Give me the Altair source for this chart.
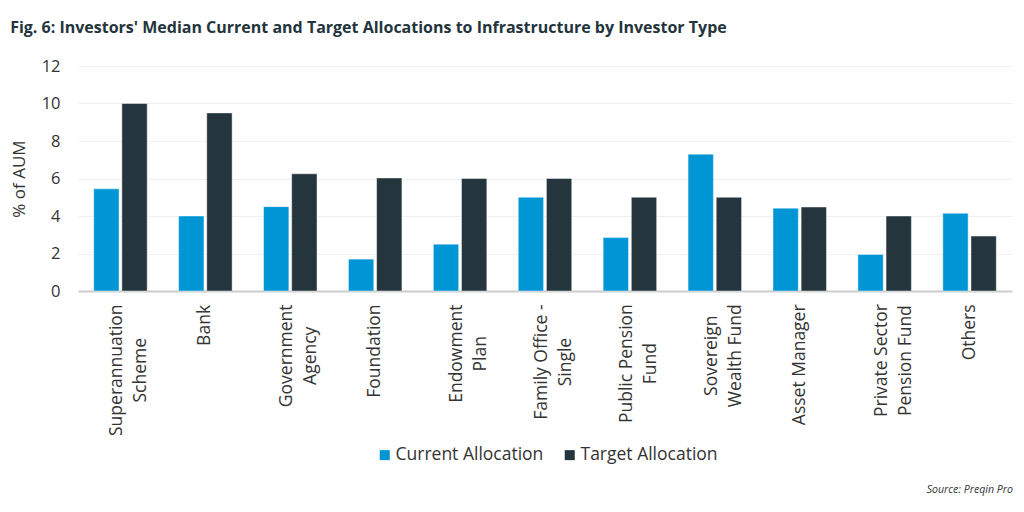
import altair as alt
import pandas as pd

categories = ["Superannuation|Scheme", "Bank", "Government|Agency", "Foundation",
              "Endowment|Plan", "Family Office -|Single", "Public Pension|Fund",
              "Sovereign|Wealth Fund", "Asset Manager", "Private Sector|Pension Fund", "Others"]
current = [5.45, 4.0, 4.5, 1.7, 2.5, 5.0, 2.85, 7.3, 4.42, 1.95, 4.15]
target = [10.0, 9.5, 6.25, 6.03, 6.0, 6.0, 5.0, 5.0, 4.48, 4.0, 2.93]
series = ["Current Allocation", "Target Allocation"]
colors = ["#0096d6", "#24353d"]

rows = []
for c, cv, tv in zip(categories, current, target):
    rows.append({"cat": c, "series": series[0], "value": cv})
    rows.append({"cat": c, "series": series[1], "value": tv})
df = pd.DataFrame(rows)

FONT = "Open Sans"
LABEL_SIZE = 17.5
W, H = 934, 225

# approximate Open Sans advance widths (em): labels are centred line by line,
# so each label's distance from the axis is set from its longest line
_w = {" ": 0.26, "a": 0.556, "b": 0.613, "c": 0.476, "d": 0.613, "e": 0.561, "f": 0.339,
      "g": 0.548, "h": 0.614, "i": 0.253, "l": 0.253, "m": 0.93, "n": 0.614, "o": 0.604,
      "p": 0.613, "r": 0.408, "s": 0.477, "t": 0.353, "u": 0.614, "v": 0.501, "w": 0.778,
      "y": 0.5, "A": 0.633, "B": 0.656, "E": 0.551, "F": 0.5, "G": 0.717, "M": 0.89,
      "O": 0.78, "P": 0.583, "S": 0.538, "W": 0.93, "-": 0.322}


def _width(s):
    return LABEL_SIZE * sum(_w.get(ch, 0.56) for ch in s)


pad_conditions = []
for c in categories:
    mw = max(_width(l) for l in c.split("|"))
    pad_conditions.append({"test": "datum.value === '%s'" % c, "value": round(13 + mw / 2, 1)})

offset_cond = {"condition": {"test": "indexof(datum.value, '|') >= 0", "value": -3}, "value": 0}

bars = alt.Chart(df).mark_bar(stroke="#ffffff", strokeOpacity=0.45, strokeWidth=1).encode(
    x=alt.X("cat:N", sort=categories,
            scale=alt.Scale(paddingInner=0.37, paddingOuter=0.185),
            axis=alt.Axis(title=None, labelAngle=-90, labelAlign="center", labelBaseline="middle",
                          labelExpr="split(datum.label, '|')", labelLineHeight=24,
                          labelOffset=offset_cond,
                          labelPadding={"condition": pad_conditions, "value": 40},
                          labelFontSize=LABEL_SIZE, labelColor="#333333", labelFont=FONT,
                          ticks=False, domainColor="#cccccc", domainWidth=2,
                          labelLimit=300)),
    xOffset=alt.XOffset("series:N", sort=series, scale=alt.Scale(paddingInner=0.1, paddingOuter=0)),
    y=alt.Y("value:Q", scale=alt.Scale(domain=[0, 12]),
            axis=alt.Axis(title="% of AUM", values=[0, 2, 4, 6, 8, 10, 12], labelOverlap=False,
                          grid=True, gridColor="#f0f0f0", domain=False, ticks=False,
                          labelFontSize=16.5, labelColor="#333333", labelFont=FONT, labelPadding=18,
                          titleFontSize=17, titleFont=FONT, titleColor="#333333",
                          titleFontWeight="normal", titlePadding=13)),
    color=alt.Color("series:N", sort=series, scale=alt.Scale(domain=series, range=colors),
                    legend=alt.Legend(title=None, orient="none", legendX=298, legendY=380,
                                      direction="horizontal", symbolType="square",
                                      symbolSize=100, symbolStrokeWidth=0, labelFontSize=17.5,
                                      labelFont=FONT, labelColor="#333333", columnPadding=17,
                                      labelOffset=2)),
)

source = alt.Chart(pd.DataFrame({"t": ["Source: Preqin Pro"]})).mark_text(
    align="right", baseline="alphabetic", fontSize=10.6, fontStyle="italic", font=FONT, color="#333333"
).encode(text="t:N", x=alt.value(W + 1), y=alt.value(427))

chart = alt.layer(bars, source).properties(
    width=W, height=H, padding={"top": 12, "left": 2, "right": 0, "bottom": 0},
    title=alt.Title("Fig. 6: Investors' Median Current and Target Allocations to Infrastructure by Investor Type",
                    anchor="start", frame="bounds", font=FONT, fontSize=16, fontWeight="bold",
                    color="#23343c", offset=22),
).configure_view(stroke=None)

chart.save("out.html", embed_options={"renderer": "svg", "actions": False})
